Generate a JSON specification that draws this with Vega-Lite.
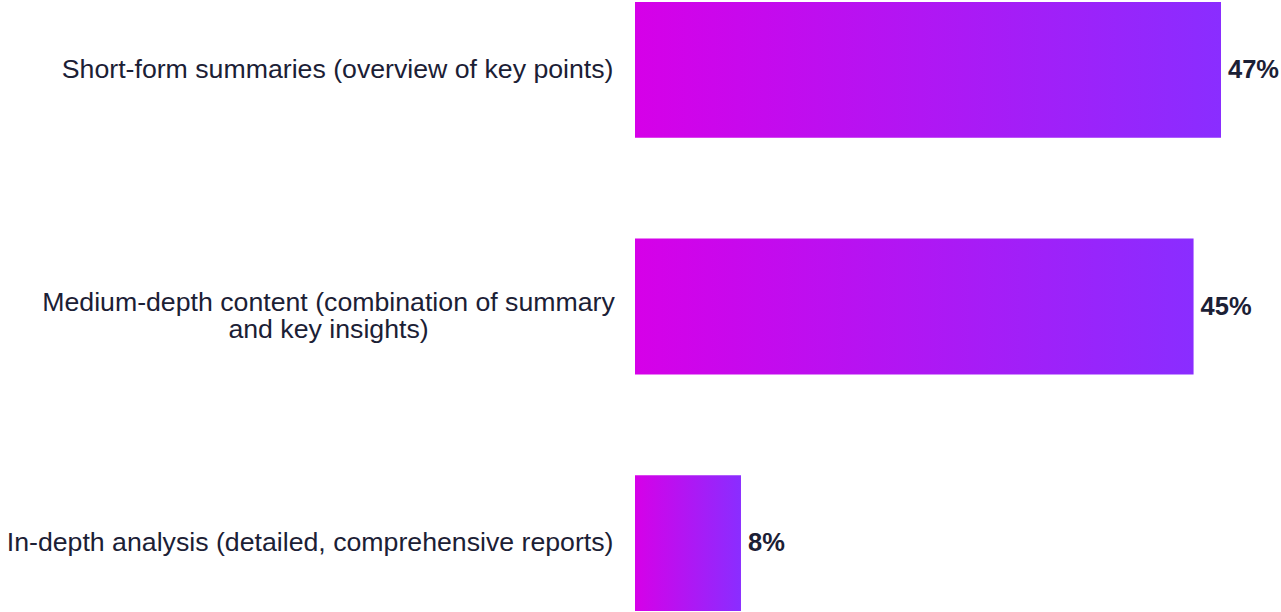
{
  "$schema": "https://vega.github.io/schema/vega-lite/v6.json",
  "width": 586,
  "height": 609,
  "autosize": {"type": "none"},
  "padding": {"left": 635, "top": 2, "right": 60, "bottom": 1},
  "background": "white",
  "config": {"view": {"stroke": null}},
  "data": {
    "values": [
      {"category": "Short-form summaries (overview of key points)", "value": 47, "label": "47%"},
      {"category": "Medium-depth content (combination of summary and key insights)", "value": 44.8, "label": "45%"},
      {"category": "In-depth analysis (detailed, comprehensive reports)", "value": 8.5, "label": "8%"}
    ]
  },
  "encoding": {
    "y": {
      "field": "category",
      "type": "nominal",
      "sort": null,
      "scale": {"paddingInner": 0.426, "paddingOuter": 0},
      "axis": {
        "title": null,
        "domain": false,
        "ticks": false,
        "labelFont": "Liberation Sans",
        "labelFontSize": 26.7,
        "labelColor": "#1b2035",
        "labelLimit": 900,
        "labelLineHeight": 27,
        "labelExpr": "indexof(datum.value, 'Medium') == 0 ? ['Medium-depth content (combination of summary', 'and key insights)'] : datum.value",
        "labelAlign": {"condition": {"test": "indexof(datum.value, 'Medium') == 0", "value": "center"}, "value": "right"},
        "labelPadding": {"condition": {"test": "indexof(datum.value, 'Medium') == 0", "value": 307}, "value": 22},
        "labelOffset": {"condition": {"test": "indexof(datum.value, 'Medium') == 0", "value": -4}, "value": 0}
      }
    },
    "x": {
      "field": "value",
      "type": "quantitative",
      "scale": {"domain": [0, 47], "nice": false, "zero": true},
      "axis": null
    }
  },
  "layer": [
    {
      "mark": {
        "type": "bar",
        "color": {
          "gradient": "linear",
          "x1": 0, "x2": 1, "y1": 0, "y2": 0,
          "stops": [
            {"offset": 0, "color": "#d600e8"},
            {"offset": 1, "color": "#8a2dff"}
          ]
        }
      }
    },
    {
      "mark": {
        "type": "text",
        "align": "left",
        "baseline": "middle",
        "dx": 7,
        "font": "Liberation Sans",
        "fontSize": 25.5,
        "fontWeight": "bold",
        "color": "#1b2035"
      },
      "encoding": {"text": {"field": "label"}}
    }
  ]
}
